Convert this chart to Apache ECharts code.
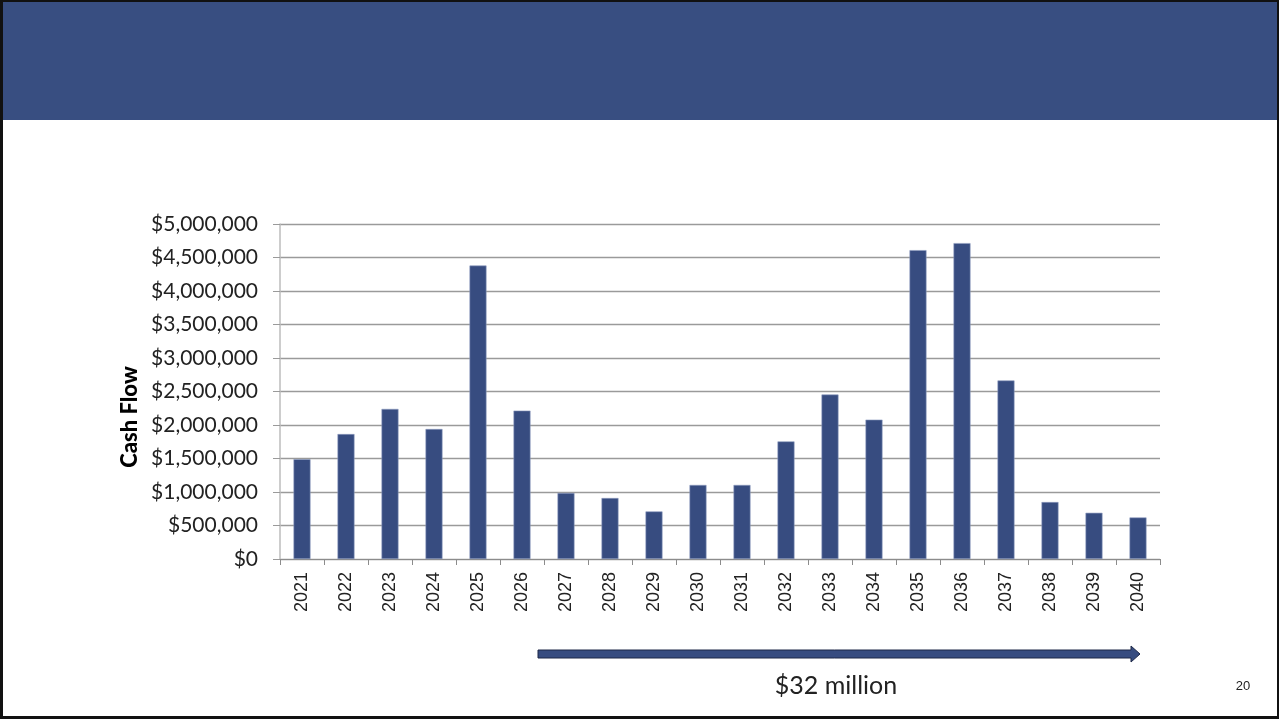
<!DOCTYPE html>
<html>
<head>
<meta charset="utf-8">
<script src="https://cdn.jsdelivr.net/npm/echarts@6/dist/echarts.min.js"></script>
<style>
html,body{margin:0;padding:0;background:#fff;}
#page{position:absolute;left:0;top:0;width:1279px;height:719px;box-sizing:border-box;border:3px solid #111;border-top-width:2px;border-right-width:2px;background:#fff;}
#header{position:absolute;left:0;top:0;right:0;height:118px;background:#384E81;}
#chart{position:absolute;left:0;top:0;width:1279px;height:719px;}
</style>
</head>
<body>
<div id="page"><div id="header"></div></div>
<div id="chart"></div>
<script>
const years = ['2021','2022','2023','2024','2025','2026','2027','2028','2029','2030','2031','2032','2033','2034','2035','2036','2037','2038','2039','2040'];
const cashFlow = [1490000,1865000,2240000,1940000,4380000,2215000,985000,910000,710000,1105000,1105000,1755000,2455000,2080000,4610000,4715000,2665000,850000,690000,620000];
const yTicks = [0,500000,1000000,1500000,2000000,2500000,3000000,3500000,4000000,4500000,5000000];
const yTitle = 'Cash Flow';
const totalLabel = '$32 million';
const pageNumber = '20';

const chart = echarts.init(document.getElementById('chart'), null, {renderer:'canvas'});
const fmt = v => '$' + v.toLocaleString('en-US');
chart.setOption({
  animation:false,
  grid:{left:280,right:119,top:224,bottom:160,containLabel:false},
  xAxis:{
    type:'category',data:years,
    axisLine:{lineStyle:{color:'#8c8c8c',width:1}},
    axisTick:{show:true,length:6,lineStyle:{color:'#8c8c8c'}},
    axisLabel:{rotate:90,fontFamily:'Liberation Sans, Arial',fontSize:18,color:'#222',margin:13}
  },
  yAxis:{
    type:'value',min:yTicks[0],max:yTicks[yTicks.length-1],interval:yTicks[1]-yTicks[0],
    axisLine:{show:true,lineStyle:{color:'#bdbdbd',width:1.5}},
    axisTick:{show:true,length:7,lineStyle:{color:'#9a9a9a'}},
    splitLine:{lineStyle:{color:'#9a9a9a',width:1.3}},
    axisLabel:{formatter:fmt,fontFamily:'Lato',fontSize:21,color:'#222',margin:22}
  },
  series:[{
    type:'bar',data:cashFlow,barWidth:17,
    itemStyle:{color:'#374C80',borderColor:'#8e9cc0',borderWidth:0.6}
  }],
  graphic:[
    {type:'text',x:130,y:417,rotation:Math.PI/2,
     style:{text:yTitle,x:0,y:0,textAlign:'center',textVerticalAlign:'middle',fontFamily:'Lato',fontWeight:900,fontSize:22,fill:'#000'}},
    {type:'polygon',shape:{points:[[538,650],[1131,650],[1131,646],[1140,654],[1131,662],[1131,658],[538,658]]},
     style:{fill:'#374C80',stroke:'#1c2746',lineWidth:1}},
    {type:'text',style:{text:totalLabel,x:836,y:686,textAlign:'center',textVerticalAlign:'middle',fontFamily:'Lato',fontSize:25,fill:'#222'}},
    {type:'text',style:{text:pageNumber,x:1243,y:686,textAlign:'center',textVerticalAlign:'middle',fontFamily:'Liberation Sans, Arial',fontSize:13,fill:'#222'}}
  ]
});
</script>
</body>
</html>
